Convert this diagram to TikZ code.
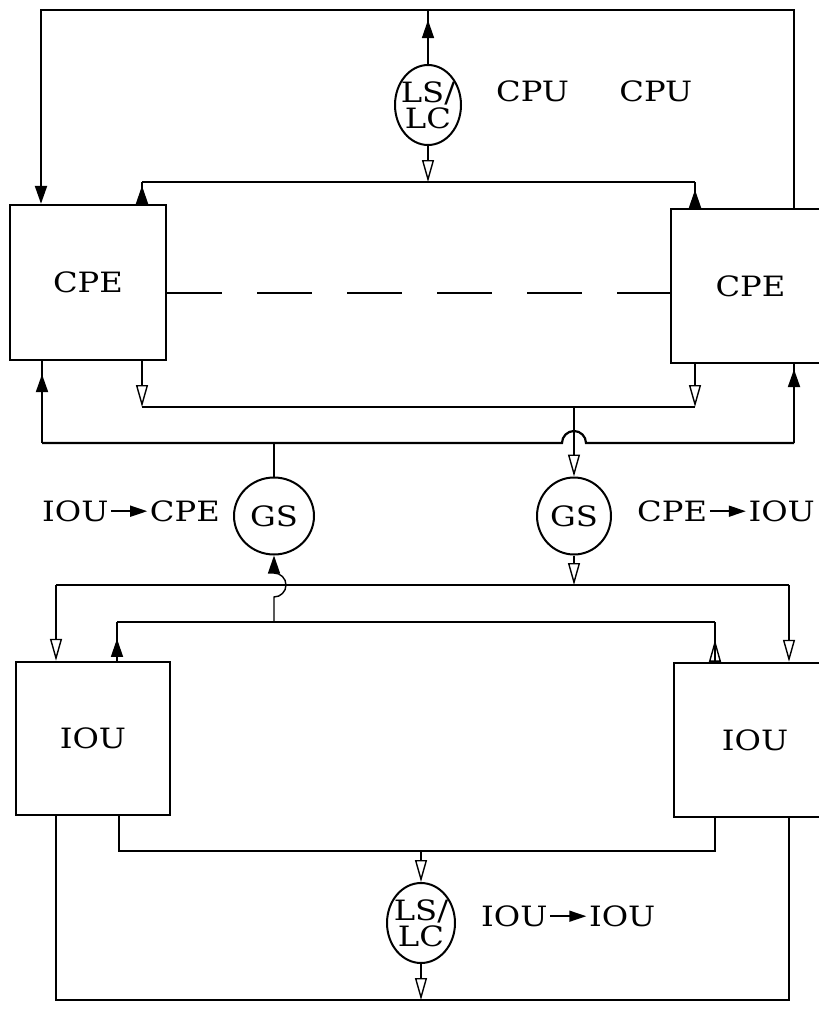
\documentclass[tikz,border=0pt]{standalone}
\usepackage{fontspec}
\setmainfont{DejaVu Serif}[FakeStretch=1.15]
\usepackage{tikz}
\usetikzlibrary{arrows.meta,positioning,calc,shapes.geometric,decorations.markings}

\newcommand{\flowarr}{\tikz[baseline=-10pt]\draw[line width=1.6pt,-{Triangle[length=17pt,width=11pt]}] (0pt,0pt) -- (36pt,0pt);}

\begin{document}
\begin{tikzpicture}[
  x=1pt, y=-1pt,
  unitbox/.style={draw, line width=2.4pt, inner sep=0pt, font=\fontsize{28}{26}\selectfont},
  switchnode/.style={draw, ellipse, line width=2pt, inner xsep=-4pt, inner ysep=0pt, align=center, font=\fontsize{28}{26}\selectfont},
  lbl/.style={inner sep=0pt, font=\fontsize{28}{26}\selectfont},
  bus/.style={line width=2.2pt},
  wire/.style={line width=1.4pt},
  fhead/.tip={Triangle[length=18pt,width=12pt]},
  ohead/.tip={Triangle[open,length=22pt,width=12pt]},
  fmark/.style={postaction={decorate}, decoration={markings, mark=at position #1 with {\arrow{fhead}}}},
  omark/.style={postaction={decorate}, decoration={markings, mark=at position #1 with {\arrow{ohead}}}}
]
  \fill[white] (0,0) rectangle (819,1013);
  \useasboundingbox (0,0) rectangle (819,1013);

  % Processing elements
  \node[unitbox, minimum width=156pt, minimum height=155pt] (cpeL) at (88,282.5) {CPE};
  \node[unitbox, minimum width=159pt, minimum height=154pt] (cpeR) at (750.5,286) {CPE};

  % Switches
  \node[switchnode, minimum width=66pt, minimum height=80pt] (lsTop) at (428,105) {LS/\\LC};
  \node[switchnode, minimum width=80pt, minimum height=77pt] (gsL) at (274,516) {GS};
  \node[switchnode, minimum width=74pt, minimum height=77pt] (gsR) at (574,516) {GS};
  \node[switchnode, minimum width=68pt, minimum height=80pt] (lsBot) at (421,923) {LS/\\LC};

  % I/O units
  \node[unitbox, minimum width=154pt, minimum height=153pt] (iouL) at (93,738.5) {IOU};
  \node[unitbox, minimum width=162pt, minimum height=154pt] (iouR) at (755,740) {IOU};

  % Labels
  \node[lbl, right=34pt of lsTop, yshift=14pt] (cpuA) {CPU};
  \node[lbl, right=50pt of cpuA] (cpuB) {CPU};
  \node[lbl, left=13pt of gsL, yshift=5pt] (lblIC) {IOU\kern2pt\flowarr\kern2pt CPE};
  \node[lbl, right=25pt of gsR, yshift=5pt] (lblCI) {CPE\kern2pt\flowarr\kern2pt IOU};
  \node[lbl, right=25pt of lsBot, yshift=7pt] (lblII) {IOU\kern2pt\flowarr\kern2pt IOU};

  % Bus corners
  \coordinate (tl) at (41,10);
  \coordinate (tr) at (794,10);
  \coordinate (ctL) at (142,182);
  \coordinate (ctR) at (695,182);
  \coordinate (dsh) at (0,293);
  \coordinate (cbL) at (142,407);
  \coordinate (cbR) at (695,407);
  \coordinate (cbG) at (574,407);
  \coordinate (obL) at (42,443);
  \coordinate (obR) at (794,443);
  \coordinate (hopA) at (574,443);
  \coordinate (ioL) at (56,585);
  \coordinate (ioR) at (789,585);
  \coordinate (hopB) at (274,585);
  \coordinate (iiL) at (117,622);
  \coordinate (iiR) at (715,622);
  \coordinate (iiG) at (274,622);
  \coordinate (bbL) at (119,851);
  \coordinate (bbR) at (715,851);
  \coordinate (bbG) at (421,851);
  \coordinate (obbL) at (56,1000);
  \coordinate (obbR) at (789,1000);

  % CPU loop
  \draw[bus, -{fhead}] (cpeR.north -| tr) -- (tr) -- (tl) -- (cpeL.north -| tl);
  \draw[wire, fmark=-10pt] (lsTop) -- (lsTop |- tl);
  \draw[wire, -{ohead}] (lsTop) -- (lsTop |- ctL);

  % CPE buses
  \draw[bus] (ctL) -- (ctR);
  \draw[wire, fmark=18pt] (cpeL.north -| ctL) -- (ctL);
  \draw[wire, fmark=18pt] (cpeR.north -| ctR) -- (ctR);
  \draw[bus, dash pattern=on 55pt off 35pt] (cpeL.east |- dsh) -- (cpeR.west |- dsh);
  \draw[bus] (cbL) -- (cbR);
  \draw[wire, -{ohead}] (cpeL.south -| cbL) -- (cbL);
  \draw[wire, -{ohead}] (cpeR.south -| cbR) -- (cbR);
  \draw[bus] (obL) -- ($(hopA)+(-12,0)$) arc[start angle=180, end angle=0, radius=12pt] -- (obR);
  \draw[bus, fmark=-13pt] (obL) -- (cpeL.south -| obL);
  \draw[bus, fmark=-5pt] (obR) -- (cpeR.south -| obR);

  % Global switches
  \draw[wire, -{ohead}] (cbG) -- (gsR);
  \draw[wire] (gsL) -- (gsL |- obL);
  \draw[wire, -{ohead}] (gsR) -- (gsR |- ioL);
  \draw[wire, -{fhead}] (iiG) -- ($(hopB)+(0,12)$) arc[start angle=-90, end angle=90, radius=12pt] -- (gsL);

  % IOU buses
  \draw[bus] (ioL) -- (ioR);
  \draw[wire, -{ohead}] (ioL) -- (iouL.north -| ioL);
  \draw[wire, -{ohead}] (ioR) -- (iouR.north -| ioR);
  \draw[bus] (iiL) -- (iiR);
  \draw[wire, fmark=22pt] (iouL.north -| iiL) -- (iiL);
  \draw[wire, omark=22pt] (iouR.north -| iiR) -- (iiR);
  \draw[bus] (iouL.south -| bbL) -- (bbL) -- (bbR) -- (iouR.south -| bbR);
  \draw[wire, -{ohead}] (bbG) -- (lsBot);
  \draw[bus] (iouL.south -| obbL) -- (obbL) -- (obbR) -- (iouR.south -| obbR);
  \draw[wire, -{ohead}] (lsBot) -- (lsBot |- obbL);
\end{tikzpicture}
\end{document}
